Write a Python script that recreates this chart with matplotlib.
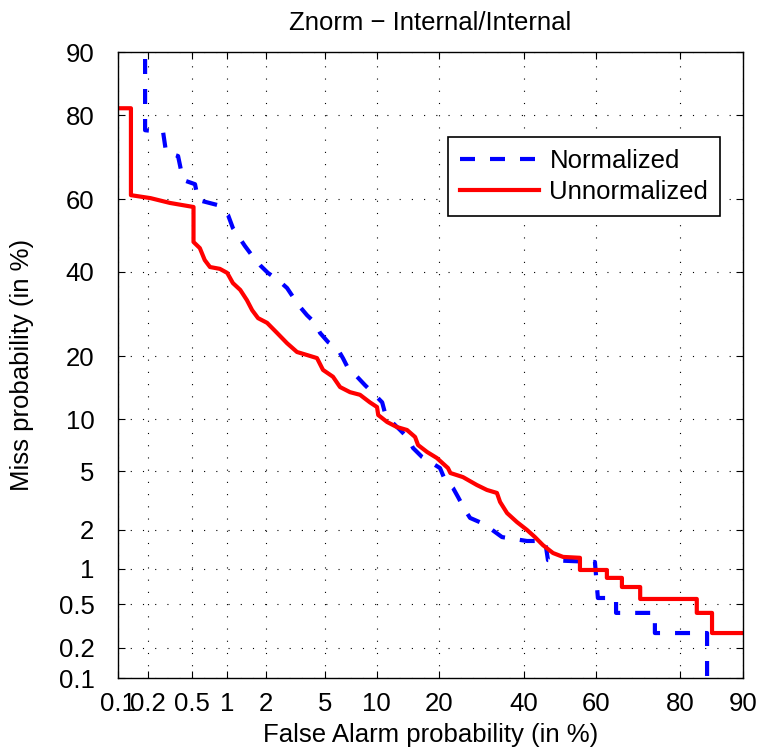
import numpy as np
import matplotlib
matplotlib.use("Agg")
import matplotlib.pyplot as plt
from statistics import NormalDist

# DET curve: false alarm vs miss probability (in %)
ticks = [0.1, 0.2, 0.5, 1, 2, 5, 10, 20, 40, 60, 80, 90]
tick_labels = ['0.1', '0.2', '0.5', '1', '2', '5', '10', '20', '40', '60', '80', '90']

norm_fa = [0.186, 0.186, 0.276, 0.294, 0.379, 0.42, 0.536, 0.57, 0.84, 1.015, 1.11, 1.38,
           1.60, 1.80, 2.06, 2.44, 2.82, 3.10, 3.46, 3.85, 4.34, 4.68, 5.25, 5.96, 6.46,
           6.93, 7.81, 8.65, 9.57, 10.7, 11.07, 12.0, 13.2, 14.42, 15.23, 16.76, 18.56,
           20.1, 21.1, 22.76, 23.83, 25.37, 26.5, 29.3, 31.8, 34.3, 40.9, 45.9, 46.7,
           59.7, 60.5, 65.3, 65.3, 74.7, 74.7, 84.85, 84.85]
norm_miss = [99, 76.9, 76.5, 72.0, 71.06, 65.1, 64.0, 59.8, 58.4, 55.7, 52.1, 47.1,
             44.0, 41.8, 39.7, 37.8, 35.7, 33.4, 30.9, 28.9, 27.1, 24.8, 22.85, 21.6, 19.6,
             17.7, 16.2, 14.8, 13.57, 12.2, 10.76, 9.64, 8.72, 7.86, 6.89, 6.1, 5.6,
             5.22, 4.39, 3.89, 3.39, 2.76, 2.43, 2.23, 1.99, 1.76, 1.645, 1.645, 1.17,
             1.13, 0.568, 0.568, 0.42, 0.42, 0.275, 0.275, 0.01]

unnorm_fa = [0.05, 0.135, 0.135, 0.21, 0.32, 0.52, 0.52, 0.59, 0.65, 0.72, 0.87, 1.0,
             1.11, 1.27, 1.43, 1.57, 1.74, 2.03, 2.40, 2.82, 3.30, 3.85, 4.47, 4.88, 5.63,
             6.21, 7.11, 8.11, 9.2, 10.05, 10.2, 11.35, 12.7, 14.26, 15.57, 16.07, 17.66,
             19.5, 21.7, 22.2, 24.9, 28.1, 30.5, 33.0, 33.8, 35.6, 38.2, 40.9, 43.1, 45.3,
             48.1, 50.9, 55.6, 55.6, 62.9, 62.9, 66.8, 66.8, 71.3, 71.3, 83.1, 83.1,
             85.65, 85.65, 95]
unnorm_miss = [81.3, 81.3, 61.1, 60.3, 59.0, 57.9, 48.2, 46.5, 43.2, 41.3, 40.8, 39.7,
               37.0, 35.2, 32.6, 30.1, 28.2, 27.1, 24.8, 22.6, 20.8, 20.2, 19.6, 17.4, 16.2,
               14.5, 13.7, 13.3, 12.2, 11.55, 10.5, 9.64, 9.06, 8.72, 7.97, 7.17, 6.53,
               6.01, 5.22, 4.86, 4.58, 4.07, 3.78, 3.61, 3.14, 2.63, 2.27, 1.99, 1.76, 1.53,
               1.33, 1.24, 1.22, 0.975, 0.975, 0.84, 0.84, 0.705, 0.705, 0.557, 0.557, 0.42,
               0.42, 0.275, 0.275]

nd = NormalDist()
_ppf = np.vectorize(nd.inv_cdf, otypes=[float])
_cdf = np.vectorize(nd.cdf, otypes=[float])


def probit(p):
    p = np.clip(np.asarray(p, dtype=float) / 100.0, 1e-9, 1 - 1e-9)
    return _ppf(p)


def inv_probit(z):
    return _cdf(np.asarray(z, dtype=float)) * 100.0


plt.rcParams['font.family'] = ['Liberation Sans', 'DejaVu Sans']

fig = plt.figure(figsize=(7.62, 7.52), dpi=100)
ax = fig.add_axes([0.1549, 0.0984, 0.8202, 0.8324])

ax.set_xscale('function', functions=(probit, inv_probit))
ax.set_yscale('function', functions=(probit, inv_probit))

ax.plot(norm_fa, norm_miss, color='#0000ff', lw=3, linestyle=(0, (3.6, 3.6)),
        label='Normalized')
ax.plot(unnorm_fa, unnorm_miss, color='#ff0000', lw=3, label='Unnormalized')

ax.set_xlim(0.1, 90)
ax.set_ylim(0.1, 90)
ax.set_xticks(ticks)
ax.set_xticklabels(tick_labels)
ax.set_yticks(ticks)
ax.set_yticklabels(tick_labels)
ax.minorticks_off()

ax.grid(True, color='black', linestyle=(0, (1, 10)), linewidth=0.8)
ax.tick_params(direction='in', length=5, width=0.8, top=True, right=True,
               labelsize=18.5)
ax.tick_params(axis='x', pad=10)
ax.tick_params(axis='y', pad=17)
for s in ax.spines.values():
    s.set_linewidth(1.0)

ax.set_xlabel('False Alarm probability (in %)', fontsize=18.5)
ax.set_ylabel('Miss probability (in %)', fontsize=18.5)
ax.xaxis.set_label_coords(0.5, -0.072)
ax.yaxis.set_label_coords(-0.134, 0.5)
ax.set_title('Znorm \u2212 Internal/Internal', fontsize=18.5, pad=16)

leg = ax.legend(loc='upper right', bbox_to_anchor=(0.963, 0.864), borderaxespad=0,
                fontsize=18.5, fancybox=False, framealpha=1, edgecolor='black',
                handlelength=3.1, borderpad=0.45, labelspacing=0.3,
                handletextpad=0.4)
leg.get_frame().set_linewidth(1.2)

fig.savefig('out.png', dpi=100)
